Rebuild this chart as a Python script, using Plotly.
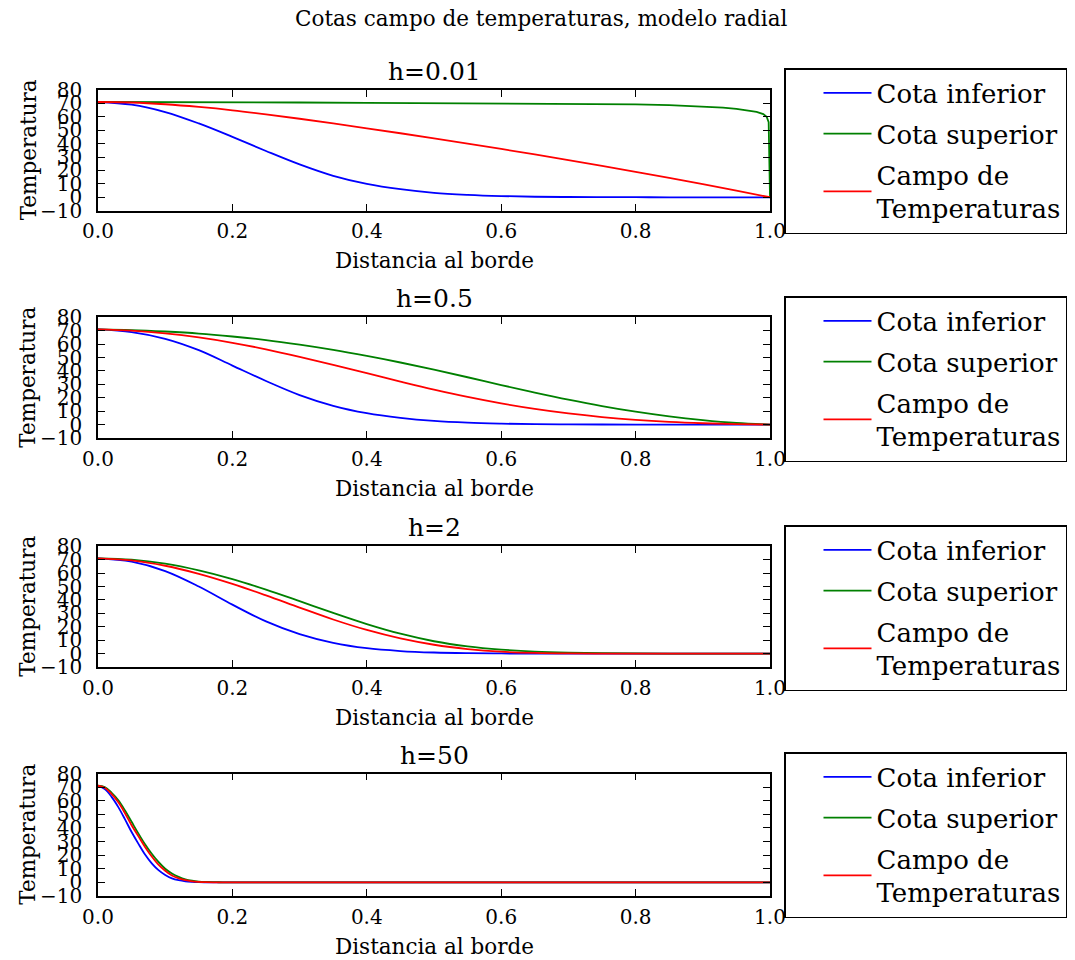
import plotly.graph_objects as go

# ---------------- data ----------------
X = [0, 0.05, 0.1, 0.15, 0.2, 0.25, 0.3, 0.35, 0.4, 0.45, 0.5,
     0.55, 0.6, 0.65, 0.7, 0.75, 0.8, 0.85, 0.9, 0.95, 1.0]
X_P1_GREEN = [0, 0.1, 0.2, 0.3, 0.4, 0.5, 0.6, 0.7, 0.8, 0.85, 0.9,
              0.93, 0.95, 0.97, 0.98, 0.99, 0.995, 0.998, 1.0]
X_P4 = [0, 0.01, 0.02, 0.03, 0.04, 0.05, 0.06, 0.07, 0.08, 0.09, 0.1,
        0.11, 0.12, 0.13, 0.14, 0.15, 0.16, 0.18, 0.2, 0.4, 0.6, 0.8, 1.0]

p1_blue = [71, 69, 63.5, 55, 45, 34.5, 24.5, 16, 10, 6, 3.3, 1.8, 0.9, 0.4, 0.2, 0.1, 0.05, 0, 0, 0, 0]
p1_green = [71, 71, 70.8, 70.6, 70.4, 70.2, 70, 69.7, 69.2, 68.7, 67.8,
            66.8, 65.9, 64.6, 63.6, 62, 60, 56, 0]
p1_red = [71, 70.6, 69.3, 67.3, 64.8, 61.8, 58.5, 55, 51.4, 47.7, 43.9, 40, 36, 31.9, 27.7, 23.4, 19, 14.5, 9.8, 5, 0]

p2_blue = [71, 69, 64, 55.5, 44, 32.5, 22, 14, 8.5, 5, 2.7, 1.4, 0.7, 0.3, 0.15, 0.05, 0, 0, 0, 0, 0]
p2_green = [71, 70.5, 69.4, 67.9, 65.7, 63, 59.6, 55.7, 51.2, 46.3, 40.9, 35.3, 29.5, 23.9, 18.6, 13.8, 9.6, 6.1, 3.3, 1.2, 0]
p2_red = [71, 70, 68, 65, 61, 56.1, 50.5, 44.5, 38.3, 32.1, 26.1, 20.6, 15.8, 11.7, 8.3, 5.6, 3.5, 2, 1, 0.4, 0]

p3_blue = [71, 68.5, 61.5, 50, 36.5, 24, 14.5, 8, 4, 1.9, 0.8, 0.3, 0.1, 0, 0, 0, 0, 0, 0, 0, 0]
p3_green = [71, 70, 67, 62, 55.5, 47.7, 39.1, 30.3, 22, 14.8, 9.2, 5.4, 3, 1.5, 0.7, 0.3, 0.1, 0, 0, 0, 0]
p3_red = [71, 69.5, 65.5, 59.5, 52, 43.4, 34.3, 25.4, 17.6, 11.3, 6.6, 3.4, 1.4, 0.5, 0.1, 0, 0, 0, 0, 0, 0]

p4_blue = [71, 68.5, 63, 55.5, 46.5, 37, 28.5, 20.5, 14, 9, 5.5, 3, 1.6, 0.8, 0.4, 0.2, 0.1, 0, 0, 0, 0, 0, 0]
p4_green = [71, 70, 66, 60.5, 53, 44.5, 36, 28, 21, 15, 10, 6.5, 4, 2.2, 1.2, 0.6, 0.3, 0.1, 0, 0, 0, 0, 0]
p4_red = [71, 69.5, 65, 59, 51, 42, 34, 26, 19, 13, 8.5, 5, 3, 1.6, 0.8, 0.4, 0.2, 0.05, 0, 0, 0, 0, 0]

PANEL_TITLES = ["h=0.01", "h=0.5", "h=2", "h=50"]
SERIES_NAMES = ["Cota inferior", "Cota superior", "Campo de<br>Temperaturas"]
X_TICKS = [0, 0.2, 0.4, 0.6, 0.8, 1.0]
X_TICKTEXT = ["0.0", "0.2", "0.4", "0.6", "0.8", "1.0"]
Y_TICKS = [-10, 0, 10, 20, 30, 40, 50, 60, 70, 80]
Y_TICKTEXT = ["\u221210", "0", "10", "20", "30", "40", "50", "60", "70", "80"]

panels = [
    [(X, p1_blue), (X_P1_GREEN, p1_green), (X, p1_red)],
    [(X, p2_blue), (X, p2_green), (X, p2_red)],
    [(X, p3_blue), (X, p3_green), (X, p3_red)],
    [(X_P4, p4_blue), (X_P4, p4_green), (X_P4, p4_red)],
]

# ---------------- layout geometry ----------------
W, H = 1075, 960
COLORS = ["#0000ff", "#008000", "#ff0000"]
FONT = "DejaVu Serif"
x_dom = [98 / W, 770 / W]
y_px = [(89.9, 210.7), (317.3, 438.0), (546.3, 667.0), (773.5, 896.0)]
legend_top_px = [68, 296, 525, 752]

fig = go.Figure()
layout = dict(
    width=W, height=H, margin=dict(l=0, r=0, t=0, b=0, pad=0, autoexpand=False),
    paper_bgcolor="white", plot_bgcolor="white",
    font=dict(family=FONT, color="black", size=20),
    showlegend=True,
)
annotations = []

for i, series in enumerate(panels):
    n = i + 1
    sfx = "" if n == 1 else str(n)
    leg = "legend" if n == 1 else f"legend{n}"
    for j, (xs, ys) in enumerate(series):
        smooth = not (i == 0 and j == 1)
        fig.add_trace(go.Scatter(
            x=xs, y=ys, mode="lines", name=SERIES_NAMES[j],
            line=dict(color=COLORS[j], width=1.8,
                      shape="spline" if smooth else "linear",
                      smoothing=1.0 if smooth else None),
            xaxis="x" + sfx, yaxis="y" + sfx, legend=leg,
            legendgroup=f"p{n}s{j}",
        ))
    top, bot = y_px[i]
    yd = [1 - bot / H, 1 - top / H]
    axcommon = dict(showgrid=False, zeroline=False, showline=True,
                    linecolor="black", linewidth=1.5, mirror="ticks",
                    ticks="inside", ticklen=7, tickwidth=1, tickcolor="black",
                    automargin=False,
                    tickfont=dict(size=20, family=FONT, color="black"))
    layout["xaxis" + sfx] = dict(domain=x_dom, range=[0, 1], anchor="y" + sfx,
                                 tickvals=X_TICKS, ticktext=X_TICKTEXT,
                                 ticklabelstandoff=2, **axcommon)
    layout["yaxis" + sfx] = dict(domain=yd, range=[-10, 80], anchor="x" + sfx,
                                 tickvals=Y_TICKS, ticktext=Y_TICKTEXT,
                                 ticklabelstandoff=10, **axcommon)
    layout[leg] = dict(x=784 / W, y=1 - legend_top_px[i] / H,
                       xanchor="left", yanchor="top",
                       bordercolor="black", borderwidth=1.5, bgcolor="white",
                       font=dict(size=26, family=FONT, color="black"),
                       indentation=33, itemwidth=48, tracegroupgap=4)
    xc = (x_dom[0] + x_dom[1]) / 2
    annotations.append(dict(text=PANEL_TITLES[i], x=xc, y=yd[1], xref="paper", yref="paper",
                            xanchor="center", yanchor="bottom", yshift=2, showarrow=False,
                            font=dict(size=25, family=FONT, color="black")))
    annotations.append(dict(text="Distancia al borde", x=xc, y=1 - (bot + 50) / H,
                            xref="paper", yref="paper", xanchor="center", yanchor="middle",
                            showarrow=False, font=dict(size=21.5, family=FONT, color="black")))
    annotations.append(dict(text="Temperatura", x=28 / W, y=(yd[0] + yd[1]) / 2,
                            xref="paper", yref="paper", xanchor="center", yanchor="middle",
                            textangle=-90, showarrow=False,
                            font=dict(size=21.5, family=FONT, color="black")))

annotations.append(dict(text="Cotas campo de temperaturas, modelo radial",
                        x=541 / W, y=1 - 19 / H, xref="paper", yref="paper",
                        xanchor="center", yanchor="middle", showarrow=False,
                        font=dict(size=21.5, family=FONT, color="black")))
layout["annotations"] = annotations
fig.update_layout(**layout)
fig.write_html("out.html")
